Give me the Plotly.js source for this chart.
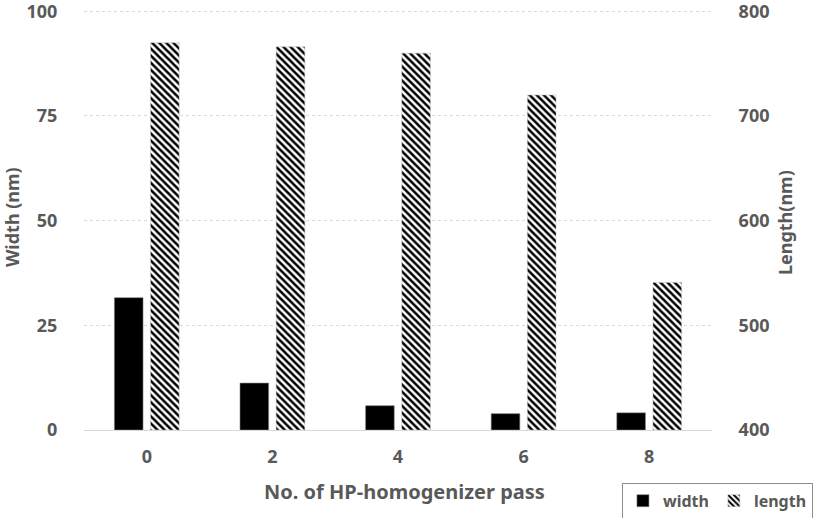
<!DOCTYPE html>
<html>
<head>
<meta charset="utf-8">
<script src="https://cdn.plot.ly/plotly-3.0.1.min.js"></script>
<style>html,body{margin:0;padding:0;background:#fff;}#chart{width:813px;height:518px;}</style>
</head>
<body>
<div id="chart"></div>
<script>
const passes = ["0", "2", "4", "6", "8"];
const widthNm = [31.6, 11.2, 5.8, 3.9, 4.1];
const lengthNm = [770, 766, 760, 720, 541];
const widthTicks = [0, 25, 50, 75, 100];
const lengthTicks = [400, 500, 600, 700, 800];
const xTitle = "No. of HP-homogenizer pass";
const yTitle = "Width (nm)";
const y2Title = "Length(nm)";

const gray = "#595959";
const fontFam = "'Noto Sans', 'Open Sans', sans-serif";
const lengthBase = 400;

const traces = [
  {
    type: "bar", name: "width", x: passes, y: widthNm, yaxis: "y",
    width: 0.228, offset: -0.258,
    marker: {color: "#000000", line: {color: "#7f7f7f", width: 0.6}}
  },
  {
    type: "bar", name: "length", x: passes, y: lengthNm.map(v => v - lengthBase), base: lengthBase, yaxis: "y2",
    width: 0.228, offset: 0.03,
    marker: {
      color: "#ffffff",
      line: {color: "#bfbfbf", width: 0.5},
      pattern: {shape: "\\", fgcolor: "#000000", bgcolor: "#ffffff", fgopacity: 1, size: 5, solidity: 0.5}
    }
  }
];

const titleFont = {family: fontFam, size: 18, color: gray, weight: "bold"};

const layout = {
  width: 813, height: 518,
  margin: {l: 84, r: 101, t: 10, b: 88, autoexpand: false},
  paper_bgcolor: "#ffffff", plot_bgcolor: "#ffffff",
  barmode: "overlay",
  showlegend: true,
  font: {family: fontFam, color: gray, size: 18},
  xaxis: {
    type: "category", categoryarray: passes, automargin: false,
    showgrid: false, showline: true, linecolor: "#d9d9d9", linewidth: 1,
    ticks: "outside", ticklen: 10, tickcolor: "rgba(0,0,0,0)",
    tickfont: {family: fontFam, size: 18, color: gray, weight: "bold"}
  },
  yaxis: {
    range: [0, 100.3], tickvals: widthTicks, ticktext: widthTicks.map(String), automargin: false,
    showgrid: true, gridcolor: "#d9d9d9", griddash: "dot", gridwidth: 1,
    zeroline: false, showline: false, ticklabeloverflow: "allow",
    ticks: "outside", ticklen: 22, tickcolor: "rgba(0,0,0,0)",
    tickfont: {family: fontFam, size: 18, color: gray, weight: "bold"}
  },
  yaxis2: {
    range: [400, 801.2], tickvals: lengthTicks, ticktext: lengthTicks.map(String), automargin: false,
    overlaying: "y", side: "right",
    showgrid: false, zeroline: false, showline: false, ticklabeloverflow: "allow",
    ticks: "outside", ticklen: 22, tickcolor: "rgba(0,0,0,0)",
    tickfont: {family: fontFam, size: 18, color: gray, weight: "bold"}
  },
  annotations: [
    {text: xTitle, xref: "paper", yref: "paper", x: 0.5096, y: -0.1476, xanchor: "center", yanchor: "middle",
     showarrow: false, font: {family: fontFam, size: 20, color: gray, weight: "bold"}},
    {text: yTitle, xref: "paper", yref: "paper", x: -0.1146, y: 0.507, xanchor: "center", yanchor: "middle",
     textangle: -90, showarrow: false, font: titleFont},
    {text: y2Title, xref: "paper", yref: "paper", x: 1.1162, y: 0.495, xanchor: "center", yanchor: "middle",
     textangle: -90, showarrow: false, font: titleFont}
  ],
  legend: {
    orientation: "h", xref: "container", yref: "container",
    x: 0.765, xanchor: "left", y: 0.068, yanchor: "top",
    bordercolor: "#8c8c8c", borderwidth: 1, bgcolor: "#ffffff",
    font: {family: fontFam, size: 16, color: gray, weight: "bold"}
  }
};

Plotly.newPlot("chart", traces, layout, {displayModeBar: false, staticPlot: true});
</script>
</body>
</html>
